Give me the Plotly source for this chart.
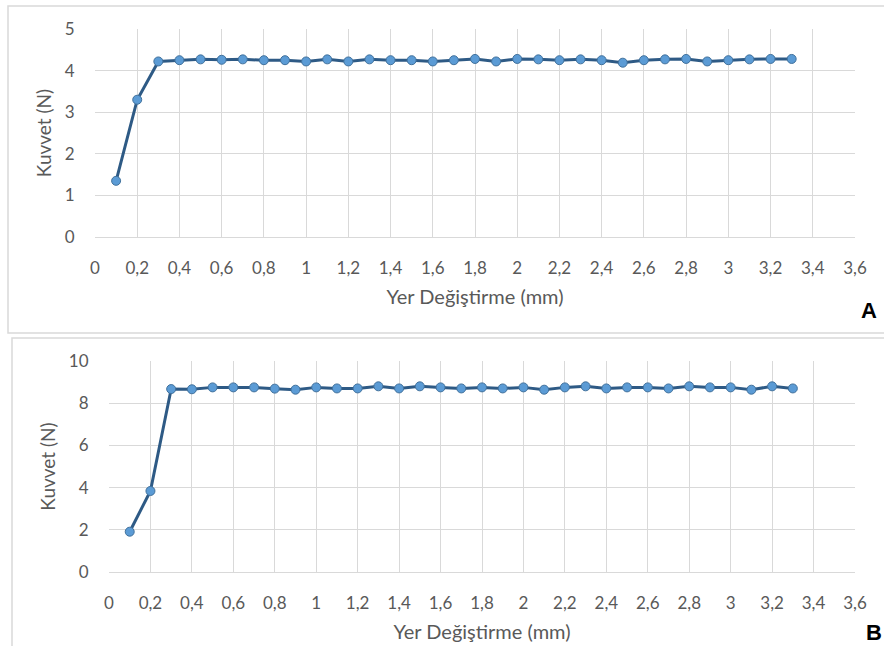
import plotly.graph_objects as go

x_vals = [round(0.1 * i, 1) for i in range(1, 34)]
force_a = [1.35, 3.3, 4.22, 4.25, 4.27, 4.26, 4.27, 4.25, 4.25, 4.22, 4.27, 4.22, 4.27, 4.25, 4.25, 4.22, 4.25,
           4.28, 4.22, 4.28, 4.27, 4.25, 4.27, 4.25, 4.19, 4.25, 4.27, 4.28, 4.22, 4.25, 4.27, 4.28, 4.28]
force_b = [1.91, 3.84, 8.67, 8.66, 8.75, 8.75, 8.75, 8.69, 8.64, 8.75, 8.7, 8.7, 8.8, 8.7, 8.8, 8.75, 8.7,
           8.75, 8.7, 8.75, 8.64, 8.75, 8.8, 8.7, 8.75, 8.75, 8.7, 8.8, 8.75, 8.75, 8.64, 8.8, 8.7]
x_ticks = [round(0.2 * i, 1) for i in range(0, 19)]
x_ticktext = [("%g" % v).replace(".", ",") for v in x_ticks]
ya_ticks = [0, 1, 2, 3, 4, 5]
yb_ticks = [0, 2, 4, 6, 8, 10]
x_title = "Yer Değiştirme (mm)"
y_title = "Kuvvet (N)"

W, H = 884, 646
FONT = "Lato"
TXT = "#595959"
GRID = "#d9d9d9"
LINE = "#2e5a85"
MARK = "#5b9bd5"

def px(x):
    return x / W

def py(y):
    return 1 - y / H

fig = go.Figure()
for d, xa, ya in [(force_a, "x", "y"), (force_b, "x2", "y2")]:
    fig.add_trace(go.Scatter(
        x=x_vals, y=d, xaxis=xa, yaxis=ya, mode="lines+markers",
        line=dict(color=LINE, width=3),
        marker=dict(color=MARK, size=9, line=dict(color="#41719c", width=1)),
        showlegend=False, hoverinfo="skip"))

xcommon = dict(range=[0, 3.6], tickmode="array", tickvals=x_ticks, ticktext=x_ticktext,
               showgrid=True, gridcolor=GRID, gridwidth=1, zeroline=False,
               showline=True, linecolor=GRID, linewidth=1,
               ticks="outside", ticklen=16, tickcolor="rgba(0,0,0,0)",
               tickfont=dict(family=FONT, size=17, color=TXT),
               title=dict(text=x_title, font=dict(family=FONT, size=20, color=TXT), standoff=12),
               automargin=False, fixedrange=True)
ycommon = dict(showgrid=True, gridcolor=GRID, gridwidth=1, zeroline=False, showline=False,
               ticks="outside", ticklen=16, tickcolor="rgba(0,0,0,0)",
               tickfont=dict(family=FONT, size=17, color=TXT),
               title=dict(text=y_title, font=dict(family=FONT, size=19, color=TXT), standoff=8),
               automargin=False, fixedrange=True)

fig.update_layout(
    width=W, height=H, margin=dict(l=0, r=0, t=0, b=0),
    paper_bgcolor="white", plot_bgcolor="white",
    xaxis=dict(domain=[px(95), px(855)], anchor="y", **xcommon),
    yaxis=dict(domain=[py(237), py(29)], anchor="x", range=[0, 5], tickvals=ya_ticks, **ycommon),
    xaxis2=dict(domain=[px(109), px(855)], anchor="y2", **xcommon),
    yaxis2=dict(domain=[py(572), py(361)], anchor="x2", range=[0, 10], tickvals=yb_ticks, **ycommon),
    shapes=[
        dict(type="rect", xref="paper", yref="paper", x0=px(8), x1=px(892), y0=py(333), y1=py(6),
             line=dict(color=GRID, width=1.5), layer="below"),
        dict(type="rect", xref="paper", yref="paper", x0=px(12), x1=px(892), y0=py(654), y1=py(338),
             line=dict(color=GRID, width=1.5), layer="below"),
    ],
    annotations=[
        dict(text="<b>A</b>", xref="paper", yref="paper", x=px(869), y=py(310), showarrow=False,
             xanchor="center", yanchor="middle",
             font=dict(family="Liberation Sans", size=22, color="black")),
        dict(text="<b>B</b>", xref="paper", yref="paper", x=px(874), y=py(632), showarrow=False,
             xanchor="center", yanchor="middle",
             font=dict(family="Liberation Sans", size=22, color="black")),
    ],
)

fig.write_html("out.html", config={"displayModeBar": False},
               post_script="document.body.style.margin='0';document.body.style.overflow='hidden';")
